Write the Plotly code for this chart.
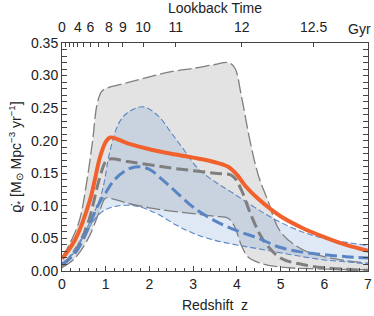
import numpy as np
import plotly.graph_objects as go

# ── Data ──────────────────────────────────────────────────────────────────────
# orange: best-fit SFRD
z_fit = [0, 0.3, 0.64, 0.87, 1.0, 1.1, 1.5, 2.0, 2.5, 3.0, 3.5, 3.8, 4.0, 4.2, 4.5, 5.0, 5.5, 6.0, 6.5, 7.0]
sfr_fit = [0.019, 0.048, 0.109, 0.175, 0.198, 0.205, 0.196, 0.187, 0.180, 0.174, 0.167, 0.160, 0.148,
           0.130, 0.110, 0.084, 0.066, 0.052, 0.040, 0.031]

# grey model: median + band
z_gmed = [0, 0.3, 0.6, 0.85, 1.0, 1.1, 1.5, 2.0, 2.5, 3.0, 3.5, 3.9, 4.1, 4.3, 4.6, 5.0, 5.5, 6.0, 7.0]
g_med = [0.008, 0.03, 0.075, 0.14, 0.168, 0.172, 0.168, 0.163, 0.158, 0.154, 0.150, 0.146, 0.125,
         0.09, 0.048, 0.02, 0.01, 0.005, 0.001]
z_ghi = [0, 0.2, 0.4, 0.55, 0.7, 0.8, 0.9, 1.0, 1.5, 2.0, 2.5, 3.0, 3.5, 3.8, 3.95, 4.1, 4.3, 4.5,
         4.7, 5.0, 5.5, 6.0, 6.5, 7.0]
g_hi = [0.02, 0.045, 0.078, 0.13, 0.2, 0.255, 0.275, 0.28, 0.289, 0.298, 0.306, 0.311, 0.317, 0.32,
        0.312, 0.27, 0.2, 0.145, 0.11, 0.06, 0.033, 0.022, 0.016, 0.012]
z_glo = [0, 0.3, 0.6, 0.85, 1.0, 1.2, 1.5, 2.0, 2.5, 3.0, 3.5, 3.8, 3.95, 4.1, 4.25, 4.5, 5.0, 6.0, 7.0]
g_lo = [0.005, 0.02, 0.05, 0.09, 0.112, 0.11, 0.104, 0.097, 0.092, 0.088, 0.084, 0.081, 0.068,
        0.04, 0.022, 0.013, 0.006, 0.003, 0.002]

# blue model: median + band
z_bmed = [0, 0.3, 0.6, 0.8, 1.0, 1.2, 1.5, 1.75, 2.0, 2.3, 2.6, 3.0, 3.5, 4.0, 4.5, 5.0, 5.5, 6.0, 6.5, 7.0]
b_med = [0.01, 0.027, 0.065, 0.098, 0.12, 0.14, 0.156, 0.16, 0.156, 0.14, 0.122, 0.098, 0.077,
         0.062, 0.05, 0.036, 0.029, 0.025, 0.022, 0.02]
z_bhi = [0, 0.3, 0.6, 0.9, 1.1, 1.3, 1.5, 1.85, 2.2, 2.5, 2.8, 3.1, 3.5, 3.9, 4.4, 4.9, 5.5, 6.0, 6.5, 7.0]
b_hi = [0.012, 0.03, 0.07, 0.118, 0.185, 0.227, 0.243, 0.252, 0.238, 0.212, 0.185, 0.158, 0.137,
        0.12, 0.098, 0.078, 0.06, 0.05, 0.044, 0.039]
z_blo = [0, 0.2, 0.5, 0.9, 1.2, 1.5, 1.8, 2.2, 2.6, 3.0, 3.5, 4.0, 4.5, 5.0, 5.5, 6.0, 6.5, 7.0]
b_lo = [0.008, 0.025, 0.055, 0.09, 0.099, 0.101, 0.098, 0.087, 0.071, 0.058, 0.047, 0.04, 0.034,
        0.028, 0.022, 0.017, 0.014, 0.011]

# top axis: lookback time ticks (Gyr)
lookback_ticks = [0, 1, 2, 3, 4, 5, 6, 7, 8, 9, 10, 11, 12, 12.5]
lookback_text = ["0", "", "", "", "4", "", "6", "", "8", "9", "10", "11", "12", "12.5"]

# ── Lookback time -> redshift (flat LCDM, H0=70, Om=0.3) ─────────────────────
zg = np.linspace(0, 8, 4001)
Ez = np.sqrt(0.3 * (1 + zg) ** 3 + 0.7)
integrand = 1.0 / ((1 + zg) * Ez)
tl = 977.8 / 70.0 * np.concatenate([[0], np.cumsum(0.5 * (integrand[1:] + integrand[:-1]) * np.diff(zg))])
lookback_z = list(np.interp(lookback_ticks, tl, zg))

GREY_LINE = "#7f7f7f"
BLUE_LINE = "#5a85c4"
ORANGE = "#f0612e"

fig = go.Figure()


def band(zl, yl, zh, yh, color):
    fig.add_trace(go.Scatter(x=zl, y=yl, mode="lines", line=dict(width=0, shape="spline"),
                             showlegend=False, hoverinfo="skip"))
    fig.add_trace(go.Scatter(x=zh, y=yh, mode="lines", line=dict(width=0, shape="spline"),
                             fill="tonexty", fillcolor=color, showlegend=False, hoverinfo="skip"))


def curve(zz, yy, color, width, dash):
    fig.add_trace(go.Scatter(x=zz, y=yy, mode="lines",
                             line=dict(color=color, width=width, dash=dash, shape="spline"),
                             showlegend=False))


# fills
band(z_glo, g_lo, z_ghi, g_hi, "rgba(200,200,200,0.5)")
band(z_blo, b_lo, z_bhi, b_hi, "rgba(110,150,210,0.22)")

# lines
curve(z_ghi, g_hi, GREY_LINE, 1.3, "14px,4px")
curve(z_glo, g_lo, GREY_LINE, 1.3, "14px,4px")
curve(z_bhi, b_hi, BLUE_LINE, 1.1, "6px,3px")
curve(z_blo, b_lo, BLUE_LINE, 1.1, "6px,3px")
curve(z_gmed, g_med, GREY_LINE, 3, "12px,5px")
curve(z_bmed, b_med, BLUE_LINE, 3, "12px,5px")
curve(z_fit, sfr_fit, ORANGE, 4, "solid")

# dummy trace to activate top axis
fig.add_trace(go.Scatter(x=[0, 7], y=[0, 0], xaxis="x2", mode="lines",
                         line=dict(width=0), showlegend=False, hoverinfo="skip"))

FONT = dict(family="Liberation Sans, Arial, sans-serif", size=14, color="#222")
AX = dict(showline=True, linecolor="#444", linewidth=1, ticks="inside", tickcolor="#444",
          showgrid=False, zeroline=False, tickfont=FONT, automargin=False)

fig.update_layout(
    width=374, height=316,
    margin=dict(l=62, r=6, t=43, b=45),
    paper_bgcolor="white", plot_bgcolor="white",
    font=FONT,
    xaxis=dict(**AX, range=[0, 7], tickmode="linear", tick0=0, dtick=1, ticklen=5, mirror=False,
               ticklabelstandoff=0,
               minor=dict(ticks="inside", ticklen=3, dtick=0.2, tickcolor="#444"),
               title=dict(text="Redshift  z", font=FONT, standoff=9)),
    xaxis2=dict(**AX, overlaying="x", side="top", range=[0, 7], tickmode="array",
                tickvals=lookback_z, ticktext=lookback_text, ticklen=4, ticklabelstandoff=4,
                title=dict(text="Lookback Time", font=FONT, standoff=6)),
    yaxis=dict(**AX, range=[0, 0.35], tickmode="linear", tick0=0, dtick=0.05, tickformat=".2f",
               ticklen=5, mirror="allticks",
               minor=dict(ticks="inside", ticklen=3, dtick=0.01, tickcolor="#444"),
               title=dict(text="ϱ̇<sub>*</sub> [M<sub>⊙</sub> Mpc<sup>−3</sup> yr<sup>−1</sup>]",
                          font=FONT, standoff=6)),
)

fig.add_annotation(x=1.0, y=1.0, xref="paper", yref="paper", text="Gyr", showarrow=False,
                   xanchor="right", yanchor="bottom", xshift=5, yshift=4, font=FONT)

# page body has a default 8px margin; drop it so the figure sits at the window origin
fig.write_html("out.html", config={"displayModeBar": False},
               post_script="document.body.style.margin='0';")
